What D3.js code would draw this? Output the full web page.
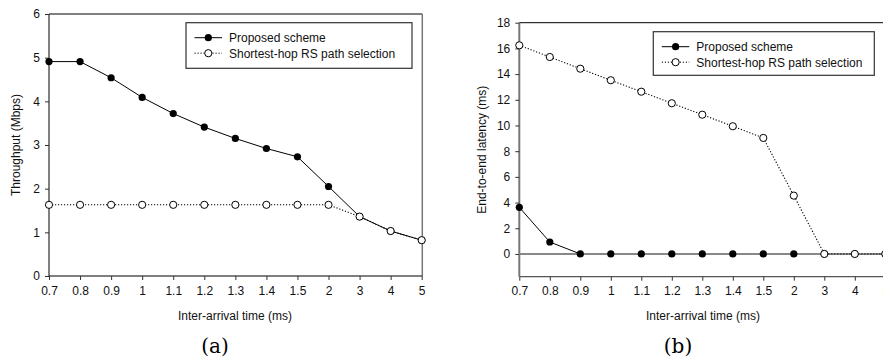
<!DOCTYPE html>
<html><head><meta charset="utf-8">
<script src="https://cdn.jsdelivr.net/npm/d3@7"></script>
<style>body{margin:0;background:#fff}svg{display:block}</style>
</head><body>
<svg id="c" width="883" height="363" font-family="Liberation Sans, Arial, sans-serif"></svg>
<script>
const categories = ["0.7","0.8","0.9","1","1.1","1.2","1.3","1.4","1.5","2","3","4","5"];
const thrProposed = [4.91,4.91,4.54,4.09,3.72,3.41,3.15,2.92,2.73,2.05,1.36,1.03,0.82];
const thrShortest = [1.63,1.63,1.63,1.63,1.63,1.63,1.63,1.63,1.63,1.63,1.36,1.03,0.82];
const latProposed = [3.63,0.93,0,0,0,0,0,0,0,0,0,0,0];
const latShortest = [16.24,15.33,14.42,13.52,12.63,11.73,10.84,9.94,9.03,4.54,0,0,0];
const thrTicks = [0,1,2,3,4,5,6];
const latTicks = [0,2,4,6,8,10,12,14,16,18];
const seriesNames = ["Proposed scheme","Shortest-hop RS path selection"];

const svg = d3.select("#c");
const SANS = "Liberation Sans, Arial, sans-serif";

function panel(o){
  const g = svg.append("g");
  const x = d3.scalePoint().domain(categories).range(o.xr);
  const y = d3.scaleLinear().domain(o.yd).range(o.yr);
  const [x0,x1] = o.xr, yTop = o.yr[1], yBot = o.yr[0];
  g.append("line").attr("x1",x0).attr("x2",o.frameRight).attr("y1",yTop).attr("y2",yTop)
    .attr("stroke","#000").attr("stroke-width",1);
  if(o.rightBorder){
    g.append("line").attr("x1",o.frameRight).attr("x2",o.frameRight).attr("y1",yTop).attr("y2",yBot)
      .attr("stroke","#777").attr("stroke-width",1.5);
  }
  const xa = g.append("g").attr("transform",`translate(0,${yBot})`)
    .call(d3.axisBottom(x).tickSize(4).tickPadding(6).tickSizeOuter(0));
  xa.select(".domain").attr("stroke","#555").attr("stroke-width",1.3).attr("d",`M${x0},0H${o.frameRight}`);
  xa.selectAll(".tick line").attr("stroke","#333");
  xa.selectAll("text").attr("font-size",12).attr("fill","#111").attr("font-family",SANS);
  const ya = g.append("g").attr("transform",`translate(${x0},0)`)
    .call(d3.axisLeft(y).tickValues(o.ticks).tickFormat(d3.format("d")).tickSize(4).tickPadding(5).tickSizeOuter(0));
  ya.select(".domain").attr("stroke",o.yAxisColor).attr("stroke-width",o.yAxisWidth).attr("d",`M0,${yBot}V${yTop}`);
  ya.selectAll(".tick line").attr("stroke","#333");
  ya.selectAll("text").attr("font-size",12).attr("fill","#111").attr("font-family",SANS);

  const line = d3.line().x((d,i)=>x(categories[i])).y(d=>y(d));
  g.append("path").attr("d",line(o.prop)).attr("fill","none").attr("stroke","#000").attr("stroke-width",1);
  if(o.zeroLine){
    g.append("line").attr("x1",x0).attr("x2",o.frameRight).attr("y1",y(0)).attr("y2",y(0))
      .attr("stroke","#888").attr("stroke-width",2);
  }
  g.selectAll(".pp").data(o.prop).enter().append("circle")
    .attr("cx",(d,i)=>x(categories[i])).attr("cy",d=>y(d)).attr("r",3.6).attr("fill","#000");
  g.append("path").attr("d",line(o.short)).attr("fill","none").attr("stroke","#000").attr("stroke-width",1.1)
    .attr("stroke-dasharray","1.2,1.8");
  g.selectAll(".sp").data(o.short).enter().append("circle")
    .attr("cx",(d,i)=>x(categories[i])).attr("cy",d=>y(d)).attr("r",3.6)
    .attr("fill","#fff").attr("stroke","#000").attr("stroke-width",1);
  const L = o.legend;
  g.append("rect").attr("x",L.x).attr("y",L.y).attr("width",L.w).attr("height",L.h)
    .attr("fill","#fff").attr("stroke","#333").attr("stroke-width",1.2);
  const rows = [L.y+15, L.y+30.5];
  g.append("line").attr("x1",L.x+8.5).attr("x2",L.x+36).attr("y1",rows[0]).attr("y2",rows[0]).attr("stroke","#000");
  g.append("circle").attr("cx",L.x+22.3).attr("cy",rows[0]).attr("r",3.6).attr("fill","#000");
  g.append("line").attr("x1",L.x+8.5).attr("x2",L.x+36).attr("y1",rows[1]).attr("y2",rows[1]).attr("stroke","#000")
    .attr("stroke-dasharray","1.2,1.8");
  g.append("circle").attr("cx",L.x+22.3).attr("cy",rows[1]).attr("r",3.6).attr("fill","#fff").attr("stroke","#000");
  seriesNames.forEach((s,i)=>{
    g.append("text").attr("x",L.x+43).attr("y",rows[i]+4.3).attr("font-size",12).attr("fill","#111").text(s);
  });
  g.append("text").attr("x",o.xTitleX).attr("y",320).attr("text-anchor","middle").attr("font-size",12).attr("fill","#111")
    .text(o.xTitle);
  g.append("text").attr("transform",`translate(${o.yTitleX},${(yTop+yBot)/2}) rotate(-90)`)
    .attr("text-anchor","middle").attr("font-size",12).attr("fill","#111").text(o.yTitle);
  g.append("text").attr("x",o.capX).attr("y",353).attr("text-anchor","middle")
    .attr("font-family","DejaVu Serif, serif").attr("font-size",20).attr("fill","#000").text(o.cap);
}

panel({xr:[49,421.7], yd:[0,6], yr:[276,14], ticks:thrTicks, prop:thrProposed, short:thrShortest,
  frameRight:422.3, rightBorder:true, yAxisColor:"#000", yAxisWidth:1, zeroLine:false,
  legend:{x:186,y:22.7,w:226,h:45.6}, xTitle:"Inter-arrival time (ms)", xTitleX:235,
  yTitle:"Throughput (Mbps)", yTitleX:20, cap:"(a)", capX:215});

panel({xr:[519.3,885.3], yd:[-1.77,18], yr:[276.7,22.7], ticks:latTicks, prop:latProposed, short:latShortest,
  frameRight:900, rightBorder:false, yAxisColor:"#777", yAxisWidth:2, zeroLine:true,
  legend:{x:653.3,y:31.7,w:221,h:43.6}, xTitle:"Inter-arrival time (ms)", xTitleX:703,
  yTitle:"End-to-end latency (ms)", yTitleX:486, cap:"(b)", capX:678});
</script>
</body></html>
